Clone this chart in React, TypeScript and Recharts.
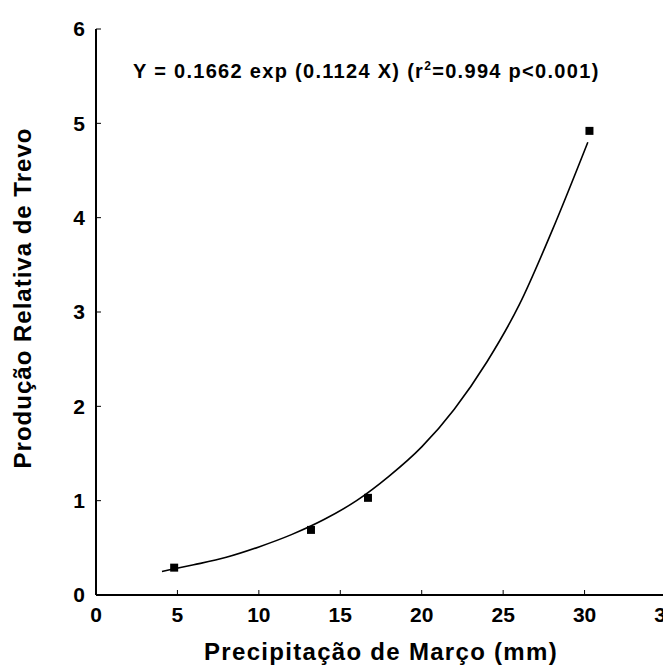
import React from 'react';
import { ComposedChart, XAxis, YAxis, Line, Scatter, Customized } from 'recharts';

const observedX = [4.8, 13.2, 16.7, 30.3];
const observedY = [0.29, 0.69, 1.03, 4.92];
const curveX = [4.05, 6, 8, 10, 12, 14, 16, 18, 20, 22, 24, 26, 28, 30.2];
const curveY = [0.25, 0.32, 0.4, 0.51, 0.64, 0.8, 1.0, 1.26, 1.57, 1.97, 2.47, 3.08, 3.86, 4.8];
const xTicks = [0, 5, 10, 15, 20, 25, 30, 35];
const yTicks = [0, 1, 2, 3, 4, 5, 6];
const xTitle = 'Precipitação de Março (mm)';
const yTitle = 'Produção Relativa de Trevo';
const eqStart = 'Y = 0.1662 exp (0.1124 X) (r';
const eqSup = '2';
const eqEnd = '=0.994 p<0.001)';

const observed = observedX.map((x, i) => ({ x, y: observedY[i] }));
const curve = curveX.map((x, i) => ({ x, y: curveY[i] }));

const FONT = '"Liberation Sans", Arial, sans-serif';

const Equation = () => (
  <text x={125} y={70} fontFamily={FONT} fontWeight="bold" fontSize={20} letterSpacing={1.3} fill="#000">
    {eqStart}
    <tspan fontSize={12} dy={-8}>{eqSup}</tspan>
    <tspan dy={8}>{eqEnd}</tspan>
  </text>
);

const XTitle = (props: any) => {
  const vb = props.viewBox || {};
  return (
    <text
      x={vb.x + vb.width / 2}
      y={652}
      textAnchor="middle"
      fontFamily={FONT}
      fontWeight="bold"
      fontSize={24}
      letterSpacing={1.3}
      fill="#000"
    >
      {xTitle}
    </text>
  );
};

const YTitle = () => (
  <text
    x={23}
    y={290}
    transform="rotate(-90, 23, 290)"
    textAnchor="middle"
    fontFamily={FONT}
    fontWeight="bold"
    fontSize={24}
    letterSpacing={1}
    fill="#000"
  >
    {yTitle}
  </text>
);

export default function App() {
  const tickStyle = { fontFamily: FONT, fontWeight: 'bold', fontSize: 21, fill: '#000' };
  return (
    <ComposedChart
      width={663}
      height={659}
      margin={{ top: 21, right: 5, left: 0, bottom: 0 }}
      style={{ background: '#fff' }}
    >
      <XAxis
        dataKey="x"
        type="number"
        domain={[0, 35]}
        ticks={xTicks}
        allowDataOverflow
        height={72}
        axisLine={{ stroke: '#000', strokeWidth: 2 }}
        tickLine={{ stroke: '#000', strokeWidth: 1 }}
        tickSize={-5}
        tickMargin={17}
        tick={tickStyle}
        interval={0}
        label={<XTitle />}
      />
      <YAxis
        dataKey="y"
        type="number"
        domain={[0, 6]}
        ticks={yTicks}
        allowDataOverflow
        width={88}
        axisLine={{ stroke: '#000', strokeWidth: 2 }}
        tickLine={{ stroke: '#000', strokeWidth: 1 }}
        tickSize={-5}
        tickMargin={16}
        tick={tickStyle}
        interval={0}
        label={<YTitle />}
      />
      <Line
        data={curve}
        dataKey="y"
        type="monotone"
        stroke="#000"
        strokeWidth={1.6}
        dot={false}
        activeDot={false}
        isAnimationActive={false}
      />
      <Scatter data={observed} dataKey="y" fill="#000" shape="square" isAnimationActive={false} />
      <Customized component={Equation} />
    </ComposedChart>
  );
}
